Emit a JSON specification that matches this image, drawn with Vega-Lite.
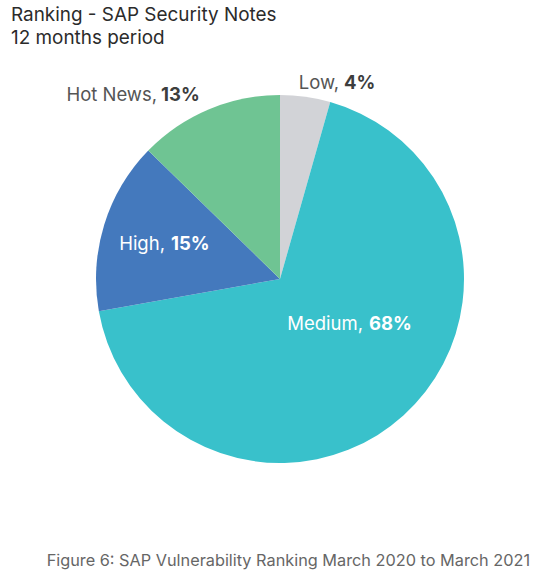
{
  "$schema": "https://vega.github.io/schema/vega-lite/v6.json",
  "autosize": "none",
  "padding": {"left": 96, "top": 95, "right": 82, "bottom": 117},
  "width": 368,
  "height": 368,
  "background": "white",
  "title": {
    "text": "Ranking - SAP Security Notes",
    "subtitle": "12 months period",
    "anchor": "start",
    "frame": "group",
    "dx": -85,
    "offset": 23,
    "font": "Inter",
    "fontSize": 18.9,
    "fontWeight": "normal",
    "color": "#2b2b2b",
    "subtitleFont": "Inter",
    "subtitleFontSize": 18.9,
    "subtitleColor": "#2b2b2b",
    "subtitlePadding": 4
  },
  "data": {
    "values": [
      {"idx": 1, "category": "Low", "share": 4.4, "name": "Low,", "pct": "4%"},
      {"idx": 2, "category": "Medium", "share": 67.8, "name": "Medium,", "pct": "68%"},
      {"idx": 3, "category": "High", "share": 15.1, "name": "High,", "pct": "15%"},
      {"idx": 4, "category": "Hot News", "share": 12.7, "name": "Hot News,", "pct": "13%"}
    ]
  },
  "encoding": {
    "theta": {"field": "share", "type": "quantitative", "stack": true},
    "order": {"field": "idx", "type": "quantitative", "sort": "ascending"}
  },
  "layer": [
    {
      "mark": {"type": "arc", "outerRadius": 184, "strokeWidth": 0},
      "encoding": {
        "color": {
          "field": "category",
          "type": "nominal",
          "legend": null,
          "scale": {
            "domain": ["Low", "Medium", "High", "Hot News"],
            "range": ["#d2d3d7", "#39c1cb", "#4479bd", "#6fc493"]
          }
        }
      }
    },
    {
      "mark": {"type": "text", "radius": 205, "dx": 30.8, "dy": 13.1, "align": "right", "baseline": "alphabetic", "font": "Inter", "fontSize": 18.5, "color": "#555555"},
      "encoding": {"text": {"condition": {"test": "datum.category == 'Low'", "field": "name"}, "value": ""}}
    },
    {
      "mark": {"type": "text", "radius": 205, "dx": 35.8, "dy": 13.1, "align": "left", "baseline": "alphabetic", "font": "Inter", "fontSize": 18.5, "fontWeight": "bold", "color": "#3d3d3d"},
      "encoding": {"text": {"condition": {"test": "datum.category == 'Low'", "field": "pct"}, "value": ""}}
    },
    {
      "mark": {"type": "text", "radius": 219, "dx": -37.8, "dy": 23.7, "align": "right", "baseline": "alphabetic", "font": "Inter", "fontSize": 18.5, "color": "#555555"},
      "encoding": {"text": {"condition": {"test": "datum.category == 'Hot News'", "field": "name"}, "value": ""}}
    },
    {
      "mark": {"type": "text", "radius": 219, "dx": -33.8, "dy": 23.7, "align": "left", "baseline": "alphabetic", "font": "Inter", "fontSize": 18.5, "fontWeight": "bold", "color": "#3d3d3d"},
      "encoding": {"text": {"condition": {"test": "datum.category == 'Hot News'", "field": "pct"}, "value": ""}}
    },
    {
      "mark": {"type": "text", "radius": 117, "dx": -3.2, "dy": 5.4, "align": "right", "baseline": "alphabetic", "font": "Inter", "fontSize": 18.5, "color": "white"},
      "encoding": {"text": {"condition": {"test": "datum.category == 'High'", "field": "name"}, "value": ""}}
    },
    {
      "mark": {"type": "text", "radius": 117, "dx": 2.8, "dy": 5.4, "align": "left", "baseline": "alphabetic", "font": "Inter", "fontSize": 18.5, "fontWeight": "bold", "color": "white"},
      "encoding": {"text": {"condition": {"test": "datum.category == 'High'", "field": "pct"}, "value": ""}}
    },
    {
      "mark": {"type": "text", "radius": 97.5, "dx": 17.6, "dy": -21.3, "align": "right", "baseline": "alphabetic", "font": "Inter", "fontSize": 18.5, "color": "white"},
      "encoding": {"text": {"condition": {"test": "datum.category == 'Medium'", "field": "name"}, "value": ""}}
    },
    {
      "mark": {"type": "text", "radius": 97.5, "dx": 23.6, "dy": -21.3, "align": "left", "baseline": "alphabetic", "font": "Inter", "fontSize": 18.5, "fontWeight": "bold", "color": "white"},
      "encoding": {"text": {"condition": {"test": "datum.category == 'Medium'", "field": "pct"}, "value": ""}}
    },
    {
      "data": {"values": [{"caption": "Figure 6: SAP Vulnerability Ranking March 2020 to March 2021"}]},
      "mark": {"type": "text", "x": {"expr": "width + 66"}, "y": {"expr": "height + 103"}, "align": "right", "baseline": "alphabetic", "font": "Inter", "fontSize": 16.3, "color": "#666666"},
      "encoding": {"text": {"field": "caption"}, "theta": null, "order": null}
    }
  ],
  "config": {"view": {"stroke": null}}
}
